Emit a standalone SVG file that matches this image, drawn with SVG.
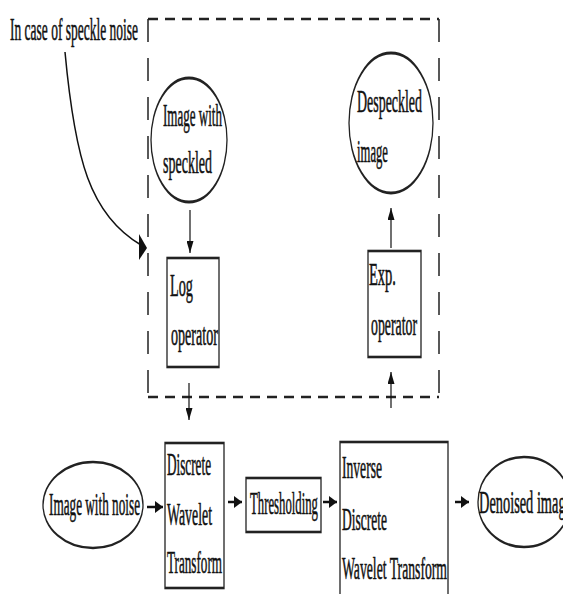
<svg xmlns="http://www.w3.org/2000/svg" width="563" height="594" viewBox="0 0 563 594">
<style>
text{font-family:"Liberation Serif","Times New Roman",serif;font-size:14px;fill:#111;stroke:#111;stroke-width:0.25}
.shape{fill:none;stroke:#222;stroke-width:1.3}
.hline{fill:none;stroke:#222;stroke-width:2.6;stroke-dasharray:10 7}
.vline{fill:none;stroke:#222;stroke-width:1.5;stroke-dasharray:23 16}
.ah{fill:none;stroke:#111;stroke-width:2.5}
.av{fill:none;stroke:#111;stroke-width:1.2}
.cv{fill:none;stroke:#111;stroke-width:1.5}
</style>
<defs>
<marker id="mh" markerUnits="userSpaceOnUse" markerWidth="8" markerHeight="12" refX="8" refY="6" orient="auto"><path d="M0,0 L8,6 L0,12 z" fill="#111"/></marker>
<marker id="mv" markerUnits="userSpaceOnUse" markerWidth="12" markerHeight="7" refX="12" refY="3.5" orient="auto"><path d="M0,0 L12,3.5 L0,7 z" fill="#111"/></marker>
</defs>
<rect width="563" height="594" fill="#fff"/>
<g id="frame">
<path class="hline" d="M148,19 H439 M148,397 H439"/>
<path class="vline" d="M148,19 V397 M439,19 V397"/>
</g>
<g id="label-speckle"><text transform="translate(10,40) scale(1,2.3)" textLength="128" lengthAdjust="spacingAndGlyphs">In case of speckle noise</text></g>
<g id="img-speckled">
<g transform="translate(189,140) scale(1,2.2)"><ellipse class="shape" cx="0" cy="0" rx="38" ry="28.2"/></g>
<text transform="translate(163,126) scale(1,2.3)" textLength="59" lengthAdjust="spacingAndGlyphs">Image with</text>
<text transform="translate(163,173) scale(1,2.3)" textLength="49" lengthAdjust="spacingAndGlyphs">speckled</text>
</g>
<g id="despeckled">
<g transform="translate(391,123) scale(1,2.2)"><ellipse class="shape" cx="0" cy="0" rx="42" ry="31.8"/></g>
<text transform="translate(357,112) scale(1,2.3)" textLength="65" lengthAdjust="spacingAndGlyphs">Despeckled</text>
<text transform="translate(357,162) scale(1,2.3)" textLength="31" lengthAdjust="spacingAndGlyphs">image</text>
</g>
<g id="log-op">
<g transform="scale(1,2)"><rect class="shape" x="167" y="129" width="52" height="54.5"/></g>
<text transform="translate(170,296) scale(1,2.3)" textLength="23" lengthAdjust="spacingAndGlyphs">Log</text>
<text transform="translate(171,345) scale(1,2.3)" textLength="47" lengthAdjust="spacingAndGlyphs">operator</text>
</g>
<g id="exp-op">
<g transform="scale(1,2)"><rect class="shape" x="368" y="125.5" width="53" height="53"/></g>
<text transform="translate(369,285) scale(1,2.3)" textLength="27" lengthAdjust="spacingAndGlyphs">Exp.</text>
<text transform="translate(371,335) scale(1,2.3)" textLength="46" lengthAdjust="spacingAndGlyphs">operator</text>
</g>
<g id="img-noise">
<g transform="translate(93,505) scale(1,2)"><ellipse class="shape" cx="0" cy="0" rx="50" ry="21.5"/></g>
<text transform="translate(49,515) scale(1,2.3)" textLength="91" lengthAdjust="spacingAndGlyphs">Image with noise</text>
</g>
<g id="dwt">
<g transform="scale(1,2)"><rect class="shape" x="165" y="221.5" width="59" height="72.5"/></g>
<text transform="translate(167,475) scale(1,2.3)" textLength="44" lengthAdjust="spacingAndGlyphs">Discrete</text>
<text transform="translate(167,525) scale(1,2.3)" textLength="45" lengthAdjust="spacingAndGlyphs">Wavelet</text>
<text transform="translate(167,573) scale(1,2.3)" textLength="55" lengthAdjust="spacingAndGlyphs">Transform</text>
</g>
<g id="thresholding">
<g transform="scale(1,2)"><rect class="shape" x="246" y="239" width="75" height="27"/></g>
<text transform="translate(250,514) scale(1,2.3)" textLength="68" lengthAdjust="spacingAndGlyphs">Thresholding</text>
</g>
<g id="idwt">
<g transform="scale(1,2)"><rect class="shape" x="340" y="221" width="108" height="80"/></g>
<text transform="translate(342,478) scale(1,2.3)" textLength="40" lengthAdjust="spacingAndGlyphs">Inverse</text>
<text transform="translate(342,530) scale(1,2.3)" textLength="45" lengthAdjust="spacingAndGlyphs">Discrete</text>
<text transform="translate(342,579) scale(1,2.3)" textLength="105" lengthAdjust="spacingAndGlyphs">Wavelet Transform</text>
</g>
<g id="denoised">
<g transform="translate(524,502) scale(1,2)"><ellipse class="shape" cx="0" cy="0" rx="46" ry="22.5"/></g>
<text transform="translate(479,513) scale(1,2.3)" textLength="93" lengthAdjust="spacingAndGlyphs">Denoised image</text>
</g>
<g id="connectors">
<path class="cv" d="M65,52 C75,160 90,215 141,245"/>
<polygon points="139,234 147,248 139,260" fill="#111"/>
<path class="av" d="M190,210 V253" marker-end="url(#mv)"/>
<path class="av" d="M189,383 V420" marker-end="url(#mv)"/>
<path class="av" d="M391,248 V208" marker-end="url(#mv)"/>
<path class="av" d="M391,408 V372" marker-end="url(#mv)"/>
<path class="ah" d="M147,507 H163" marker-end="url(#mh)"/>
<path class="ah" d="M228,502 H242" marker-end="url(#mh)"/>
<path class="ah" d="M323,502 H337" marker-end="url(#mh)"/>
<path class="ah" d="M455,502 H469" marker-end="url(#mh)"/>
</g>
</svg>
